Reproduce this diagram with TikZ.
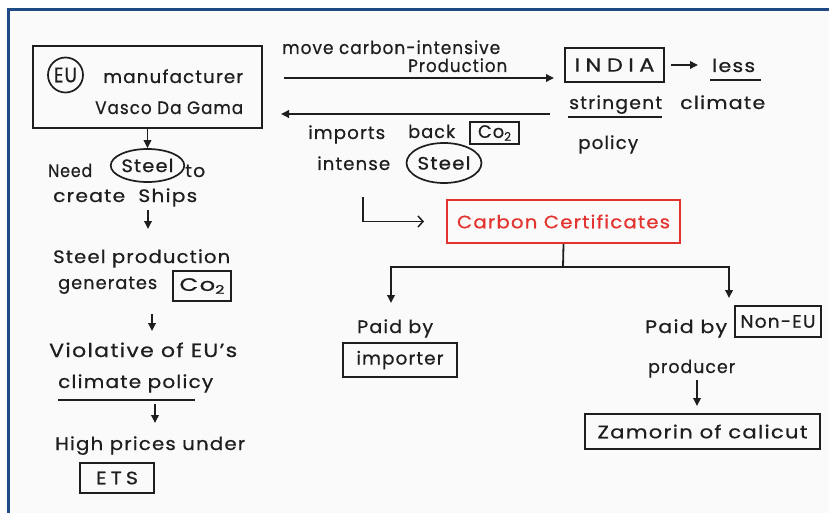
\documentclass[tikz,border=0pt]{standalone}
\usepackage{fontspec}
\usepackage{graphicx}
\setmainfont{Poppins}[LetterSpace=6,FakeBold=0.6]
\usetikzlibrary{arrows.meta,calc,shapes.geometric}
\definecolor{ink}{HTML}{1E1E1E}
\definecolor{redink}{HTML}{E2332F}
\definecolor{paper}{HTML}{FAFAFA}
\definecolor{framebl}{HTML}{1F4A85}
% stretch a text horizontally to a given width (in pt), keeping its height
\newlength\fitlen
\newcommand{\fw}[2]{\settowidth\fitlen{#2}\scalebox{\fpeval{#1pt/\fitlen}}[1]{#2}}
\newcommand{\cotwo}{Co\raisebox{-0.3ex}{\fontsize{12}{12}\selectfont 2}}
\tikzset{
  txt/.style={inner sep=0pt, anchor=base west, text=ink, font=\fontsize{18}{20}\selectfont},
  box/.style={draw=ink, line width=2pt, inner sep=0pt, text=ink, font=\fontsize{18}{20}\selectfont},
  ring/.style={draw=ink, line width=1.7pt, ellipse, inner sep=0pt, text=ink, font=\fontsize{18}{20}\selectfont},
  ln/.style={draw=ink, line width=1.8pt},
  arr/.style={ln, -{Triangle[length=8pt,width=7.5pt]}},
  openarr/.style={ln, -{Straight Barb[length=5pt,width=11pt,line width=1.5pt]}},
}
\begin{document}
\begin{tikzpicture}[x=1pt,y=-1pt]
\useasboundingbox (0,0) rectangle (829,513);
\fill[white] (0,0) rectangle (829,513);
\fill[paper] (8.5,9.5) rectangle (829,513);
\draw[framebl, line width=3pt] (8.5,513) -- (8.5,9.5) -- (829,9.5);

% --- EU manufacturer and the left-hand chain ---
\node[box, minimum width=229pt, minimum height=82pt] (eu) at (147.5,87) {};
\node[ring, circle, minimum size=35pt, font=\fontsize{21}{22}\selectfont] (euc) at (65.5,75) {\fw{23}{EU}};
\node[txt] (manu) at (103,83) {\fw{140}{manufacturer}};
\node[txt] (vasco) at (95,114) {\fw{148}{Vasco Da Gama}};

\node[txt] (need) at (48,177) {\fw{44}{Need}};
\node[ring, minimum width=62pt, minimum height=33pt] (steelA) at (147.5,165.5) {\fw{52}{Steel}};
\node[txt] (to) at (185,177) {\fw{20}{to}};
\node[txt] (ships) at (53,202) {\fw{144}{create\ \ Ships}};
\draw[arr] (eu.south) -- (steelA.north);

\node[txt] (prod) at (53,263) {\fw{177}{Steel production}};
\node[txt] (gen) at (58,289) {\fw{99}{generates}};
\node[box, minimum width=58pt, minimum height=30pt] (coA) at (202,286) {\fw{45}{\cotwo}};
\coordinate (a2s) at (148,210);
\coordinate (a2e) at (148,229);
\draw[arr] (a2s) -- (a2e);

\node[txt, font=\fontsize{19}{21}\selectfont] (viol) at (49,357) {\fw{188}{Violative of EU’s}};
\node[txt] (clim) at (58,388) {\fw{155}{climate policy}};
\draw[ln] (58,400) -- (195,400);
\coordinate (a3s) at (152,314);
\coordinate (a3e) at (152,331);
\draw[arr] (a3s) -- (a3e);

\node[txt] (high) at (55,450) {\fw{190}{High prices under}};
\node[box, minimum width=74pt, minimum height=30pt] (ets) at (117,478) {\addfontfeature{LetterSpace=20}\fw{42}{ETS}};
\coordinate (a4s) at (155,404);
\coordinate (a4e) at (155,423);
\draw[arr] (a4s) -- (a4e);

% --- relocation to India and the return flow ---
\node[txt] (move) at (282,54) {\fw{218}{move carbon-intensive}};
\node[txt] (prodn) at (408,72) {\fw{99}{Production}};
\node[box, minimum width=99pt, minimum height=34pt, font=\fontsize{19}{21}\selectfont] (india) at (614.5,65) {\addfontfeature{LetterSpace=24}\fw{80}{INDIA}};
\coordinate (m1) at (284,78);
\coordinate (m2) at (554,78);
\draw[arr] (m1) -- (m2);
\coordinate (b1) at (550,114);
\coordinate (b2) at (281,114);
\draw[arr] (b1) -- (b2);

\node[txt] (less) at (712,72) {\fw{43}{less}};
\draw[arr] ([xshift=6pt]india.east) -- ([xshift=-14pt]less.west |- india.east);
\draw[ln] (710,80) -- (761,80);
\node[txt] (string) at (569,109) {\fw{93}{stringent}};
\draw[ln] (568,117) -- (662,117);
\node[txt] (climR) at (680,109) {\fw{85}{climate}};
\node[txt] (pol) at (578,149) {\fw{60}{policy}};

\node[txt] (imp) at (308,139) {\fw{77}{imports}};
\node[txt] (back) at (408,138) {\fw{47}{back}};
\node[box, minimum width=49pt, minimum height=22pt] (coB) at (494.5,133) {\fw{33}{\cotwo}};
\node[txt] (intense) at (317,170) {\fw{73}{intense}};
\node[ring, minimum width=68pt, minimum height=40pt] (steelB) at (444,163) {\fw{53}{Steel}};

% --- carbon certificates ---
\node[box, draw=redink, text=redink, minimum width=233pt, minimum height=43pt] (cc) at (563.5,221.5) {\fw{213}{Carbon Certificates}};
\coordinate (ls) at (363,197);
\draw[openarr] (ls) |- ([xshift=-22pt]cc.west);

\coordinate (j) at (563,267);
\coordinate (jl) at (391,303);
\coordinate (jr) at (729,298);
\draw[ln] (cc.south) -- (j);
\draw[arr] (j) -| (jl);
\draw[arr] (j) -| (jr);

\node[txt] (paidL) at (357,333) {\fw{76}{Paid by}};
\node[box, minimum width=114pt, minimum height=34pt] (importer) at (400,360) {\fw{87}{importer}};
\node[txt] (paidR) at (645,333) {\fw{82}{Paid by}};
\node[box, minimum width=86pt, minimum height=31pt] (noneu) at (778,321.5) {\fw{75}{Non-EU}};
\node[txt] (producer) at (648,373) {\fw{87}{producer}};
\node[box, minimum width=235pt, minimum height=35pt] (zam) at (702.5,431.5) {\fw{210}{Zamorin of calicut}};
\coordinate (zs) at (697,380);
\draw[arr] (zs) -- ([yshift=7pt]zam.north -| zs);
\end{tikzpicture}
\end{document}
